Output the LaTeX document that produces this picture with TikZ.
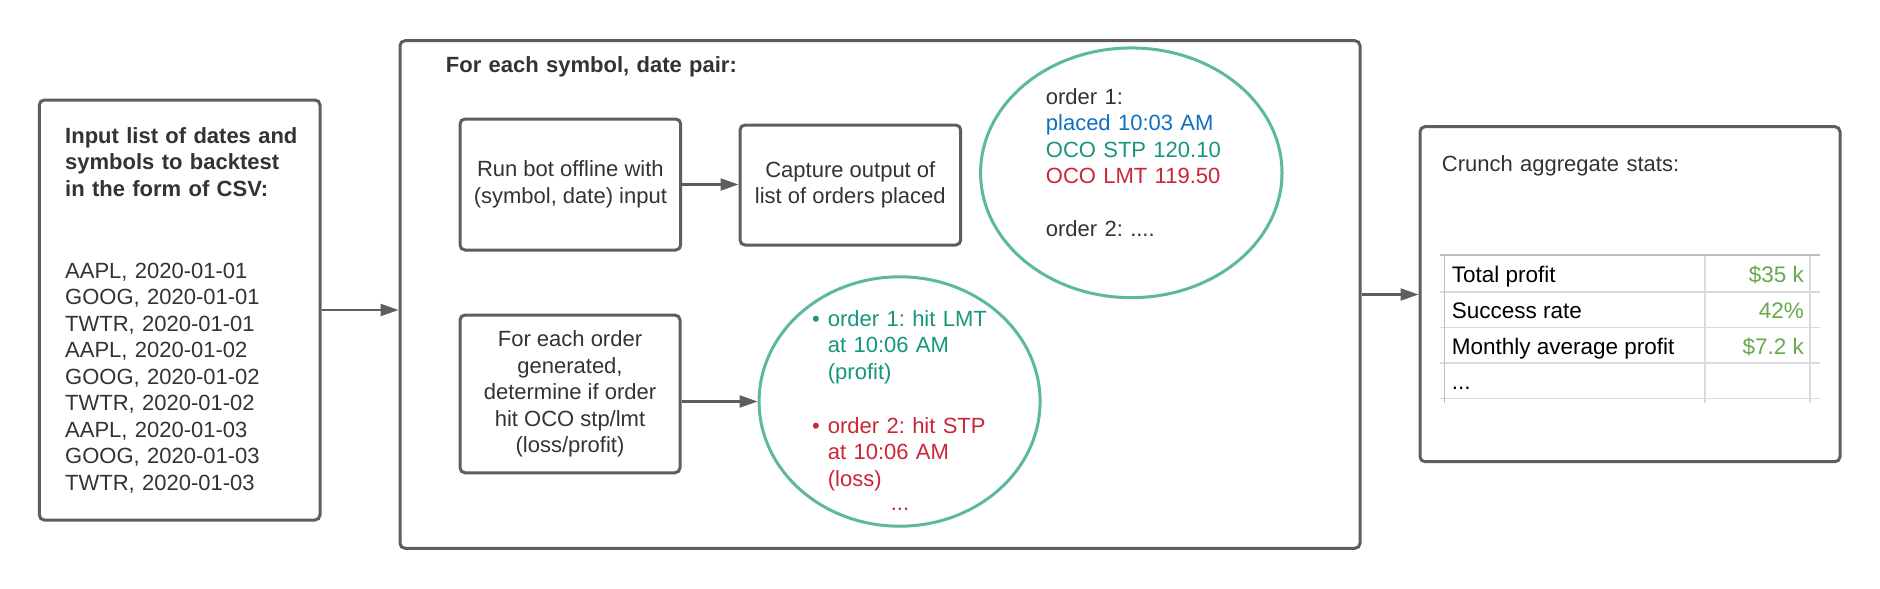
\documentclass[tikz,border=0pt]{standalone}
\usepackage{fontspec}
\setmainfont{Liberation Sans}
\usepackage{xcolor}
\usetikzlibrary{arrows.meta}
\usetikzlibrary{shapes.geometric}
\frenchspacing

\definecolor{boxgray}{RGB}{94,94,94}
\definecolor{textgray}{RGB}{51,51,51}
\definecolor{ovalteal}{RGB}{92,184,162}
\definecolor{ordblue}{RGB}{16,112,192}
\definecolor{ordgreen}{RGB}{22,150,122}
\definecolor{ordred}{RGB}{203,38,56}
\definecolor{statgreen}{RGB}{106,168,79}
\definecolor{gridlight}{RGB}{218,218,218}
\definecolor{griddark}{RGB}{190,190,190}

\begin{document}
\begin{tikzpicture}[x=1pt, y=-1pt,
    every node/.style={font=\fontsize{22}{26.5}\selectfont, text=textgray, inner sep=0pt},
    box/.style={rectangle, draw=boxgray, line width=3pt, rounded corners=5pt},
    oval/.style={ellipse, draw=ovalteal, line width=3pt},
    flow/.style={-{Triangle[length=18pt, width=12pt]}, draw=boxgray, line width=2.2pt},
    lefttext/.style={anchor=base west, align=left, text width=#1},
    gridline/.style={draw=gridlight, line width=1.6pt},
    cell/.style={font=\fontsize{22.5}{26.5}\selectfont, text=black}]

    \fill[white] (0,0) rectangle (1880,589);
    \useasboundingbox (0,0) rectangle (1880,589);

    % input list
    \node[box, minimum width=280.7pt, minimum height=420pt] (input) at (179.65,310) {};
    \node[lefttext=250pt, font=\fontsize{22}{26.5}\selectfont\bfseries] (intitle) at (65,143)
        {Input list of dates and\\symbols to backtest\\in the form of CSV:};
    \node[lefttext=250pt] (inlist) at (65,278)
        {AAPL, 2020-01-01\\GOOG, 2020-01-01\\TWTR, 2020-01-01\\AAPL, 2020-01-02\\GOOG, 2020-01-02\\TWTR, 2020-01-02\\AAPL, 2020-01-03\\GOOG, 2020-01-03\\TWTR, 2020-01-03};

    % per symbol, date pair
    \node[box, minimum width=960pt, minimum height=507.6pt] (pair) at (880,294.5) {};
    \node[lefttext=400pt, font=\fontsize{22}{26.5}\selectfont\bfseries] (pairtitle) at (445.7,72) {For each symbol, date pair:};

    \node[box, minimum width=220.7pt, minimum height=131pt, align=center] (run) at (570.35,184.5)
        {Run bot offline with\\(symbol, date) input};
    \node[box, minimum width=220.7pt, minimum height=120pt, align=center] (capture) at (850.35,185)
        {Capture output of\\list of orders placed};
    \node[box, minimum width=220pt, minimum height=157.7pt, align=center] (order) at (570,393.9)
        {For each order\\generated,\\determine if order\\hit OCO stp/lmt\\(loss/profit)};

    \node[oval, minimum width=301.4pt, minimum height=249.7pt] (orders) at (1131.3,172.8) {};
    \node[lefttext=220pt] (ordtext) at (1045.7,104)
        {order 1:\\\textcolor{ordblue}{placed 10:03 AM}\\\textcolor{ordgreen}{OCO STP 120.10}\\\textcolor{ordred}{OCO LMT 119.50}\\[26.5pt]order 2: ....};

    \node[oval, minimum width=281pt, minimum height=249.4pt] (hits) at (899.6,401.5) {};
    \node[anchor=base, text=ordgreen] (dot1) at (816,326) {\textbullet};
    \node[lefttext=200pt, text=ordgreen] (hit1) at (827.7,326) {order 1: hit LMT\\at 10:06 AM\\(profit)};
    \node[anchor=base, text=ordred] (dot2) at (816,433) {\textbullet};
    \node[lefttext=200pt, text=ordred] (hit2) at (827.7,433) {order 2: hit STP\\at 10:06 AM\\(loss)};
    \node[anchor=base, text=ordred] (hitmore) at (900,510) {...};

    % aggregate stats
    \node[box, minimum width=420pt, minimum height=335pt] (stats) at (1630,294.2) {};
    \node[lefttext=380pt] (stattitle) at (1441.7,171) {Crunch aggregate stats:};

    \foreach \ty in {291.7,327.3,362.7,398.3}
        \draw[gridline] (1440,\ty) -- (1820,\ty);
    \foreach \tx in {1705,1810}
        \draw[gridline] (\tx,255) -- (\tx,403);
    \draw[gridline, draw=griddark] (1440,255) -- (1820,255);
    \draw[gridline, draw=griddark] (1444.3,255) -- (1444.3,403);

    \node[cell, anchor=base west] (profit) at (1451.7,282) {Total profit};
    \node[cell, anchor=base west] (rate) at (1451.7,318) {Success rate};
    \node[cell, anchor=base west] (monthly) at (1451.7,354) {Monthly average profit};
    \node[cell, anchor=base west] (more) at (1451.7,389) {...};
    \node[cell, anchor=base east, text=statgreen] (profitval) at (1804,282) {\$35 k};
    \node[cell, anchor=base east, text=statgreen] (rateval) at (1804,318) {42\%};
    \node[cell, anchor=base east, text=statgreen] (monthlyval) at (1804,354) {\$7.2 k};

    % connectors
    \draw[flow] (input.east) -- (input.east -| pair.west);
    \draw[flow] (run.east) -- (run.east -| capture.west);
    \draw[flow] (hits.west -| order.east) -- (hits.west);
    \draw[flow] (pair.east) -- (pair.east -| stats.west);
\end{tikzpicture}
\end{document}
